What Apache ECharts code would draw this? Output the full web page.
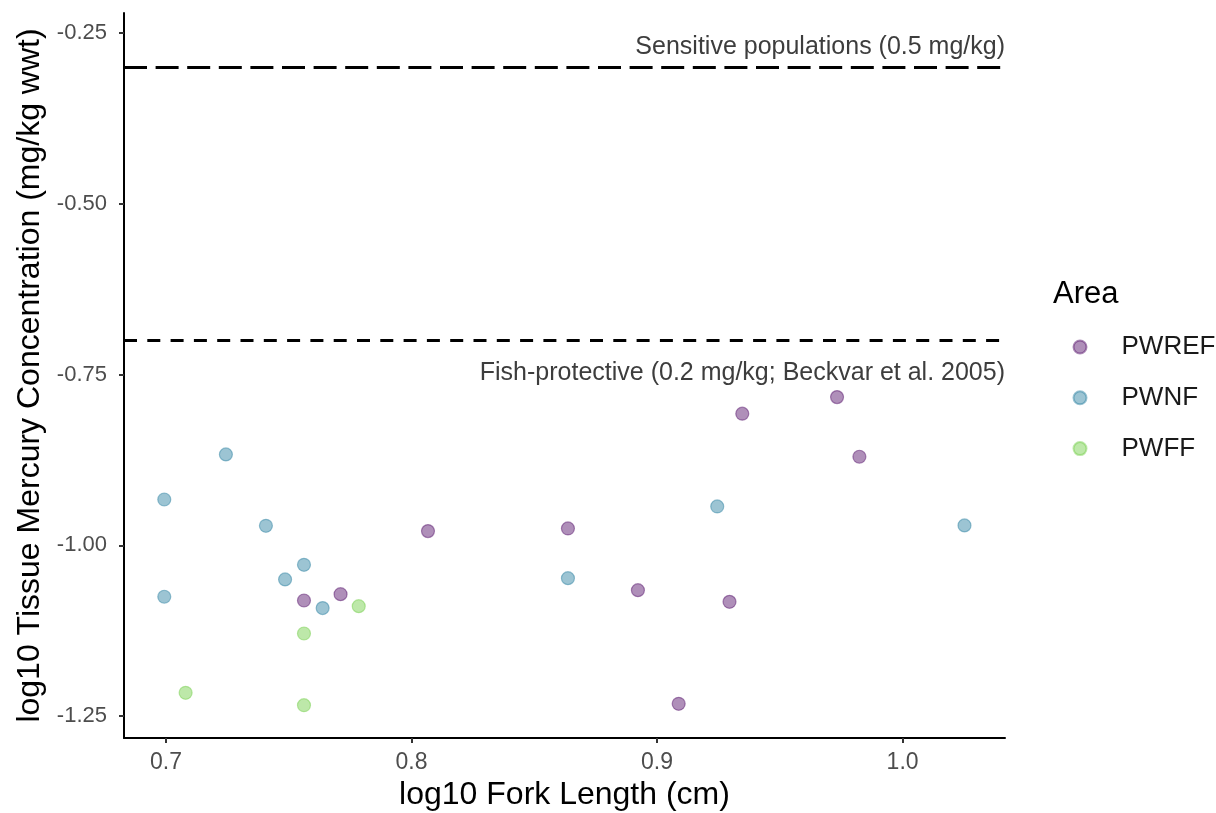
<!DOCTYPE html>
<html>
<head>
<meta charset="utf-8">
<script src="https://cdn.jsdelivr.net/npm/echarts@6/dist/echarts.min.js"></script>
<style>
html,body{margin:0;padding:0;background:#fff;}
#chart{width:1216px;height:813px;}
</style>
</head>
<body>
<div id="chart"></div>
<script>
// Data (log10 fork length, log10 tissue mercury)
const pwrefX = [0.7562, 0.7711, 0.8067, 0.8637, 0.8922, 0.9088, 0.9295, 0.9347, 0.9733, 0.9824];
const pwrefY = [-1.0809, -1.0716, -0.9793, -0.9754, -1.0658, -1.2321, -1.0828, -0.8074, -0.7831, -0.8704];
const pwnfX = [0.6993, 0.6993, 0.7244, 0.7407, 0.7485, 0.7562, 0.7638, 0.8637, 0.9245, 1.0252];
const pwnfY = [-0.9330, -1.0754, -0.8670, -0.9715, -1.0500, -1.0286, -1.0920, -1.0482, -0.9432, -0.9710];
const pwffX = [0.7080, 0.7562, 0.7562, 0.7785];
const pwffY = [-1.2160, -1.1292, -1.2342, -1.0892];
const areas = ['PWREF', 'PWNF', 'PWFF'];
const thresholdValues = [0.5, 0.2];
const thresholdLabels = ['Sensitive populations (0.5 mg/kg)', 'Fish-protective (0.2 mg/kg; Beckvar et al. 2005)'];
const xTicks = [0.7, 0.8, 0.9, 1.0];
const yTicks = [-1.25, -1.0, -0.75, -0.5, -0.25];

const zip = (xs, ys) => xs.map((x, i) => [x, ys[i]]);
const font = "'Liberation Sans', Arial, sans-serif";
const colors = ['rgba(82,12,104,0.58)', 'rgba(40,128,160,0.58)', 'rgba(112,205,70,0.58)'];

const chart = echarts.init(document.getElementById('chart'));
const mk = (name, data, color, extra) => Object.assign({
  name, type: 'scatter', data, symbolSize: 13,
  itemStyle: { color: color, borderColor: color, borderWidth: 1.2 },
  emphasis: { disabled: true }
}, extra || {});

chart.setOption({
  animation: false,
  backgroundColor: '#ffffff',
  textStyle: { fontFamily: font },
  grid: { left: 124, right: 211, top: 13, bottom: 75, containLabel: false, outerBoundsMode: 'none' },
  title: {
    text: 'Area', left: 1048, top: 274,
    textStyle: { fontFamily: font, fontSize: 31, fontWeight: 'normal', color: '#000' }
  },
  legend: {
    orient: 'vertical', left: 1067.5, top: 329, itemGap: 24.8,
    icon: 'circle', itemWidth: 13, itemHeight: 13,
    data: areas,
    textStyle: { fontFamily: font, fontSize: 26, color: '#1a1a1a', padding: [0, 0, 0, 30] }
  },
  xAxis: {
    type: 'value', min: 0.6829, max: 1.0417,
    name: 'log10 Fork Length (cm)', nameLocation: 'middle', nameGap: 41,
    nameTextStyle: { fontFamily: font, fontSize: 32, color: '#000' },
    axisLine: { show: true, lineStyle: { color: '#000', width: 2 } },
    axisTick: { show: true, length: 5, lineStyle: { color: '#333', width: 2 }, customValues: xTicks },
    axisLabel: { fontFamily: font, fontSize: 23, color: '#4d4d4d', margin: 13, customValues: xTicks,
      formatter: v => v.toFixed(1) },
    splitLine: { show: false }
  },
  yAxis: {
    type: 'value', min: -1.2822, max: -0.2207,
    name: 'log10 Tissue Mercury Concentration (mg/kg wwt)', nameLocation: 'middle', nameGap: 76,
    nameTextStyle: { fontFamily: font, fontSize: 32, color: '#000' },
    axisLine: { show: true, lineStyle: { color: '#000', width: 2 } },
    axisTick: { show: true, length: 5, lineStyle: { color: '#333', width: 2 }, customValues: yTicks },
    axisLabel: { fontFamily: font, fontSize: 22, color: '#4d4d4d', margin: 17, customValues: yTicks,
      formatter: v => v.toFixed(2) },
    splitLine: { show: false }
  },
  series: [
    mk(areas[0], zip(pwrefX, pwrefY), colors[0], {
      markLine: {
        silent: true, symbol: 'none', animation: false,
        data: [
          { yAxis: Math.log10(thresholdValues[0]),
            lineStyle: { type: [23, 8.6], color: '#000', width: 2.8 },
            label: { show: true, position: 'insideEndTop', distance: [0, 8], formatter: thresholdLabels[0],
              fontFamily: font, fontSize: 25, color: '#3d3d3d' } },
          { yAxis: Math.log10(thresholdValues[1]),
            lineStyle: { type: [13, 10.3], color: '#000', width: 2.8 },
            label: { show: true, position: 'insideEndBottom', distance: [0, 20], formatter: thresholdLabels[1],
              fontFamily: font, fontSize: 25, color: '#3d3d3d' } }
        ]
      }
    }),
    mk(areas[1], zip(pwnfX, pwnfY), colors[1]),
    mk(areas[2], zip(pwffX, pwffY), colors[2])
  ]
});
</script>
</body>
</html>
